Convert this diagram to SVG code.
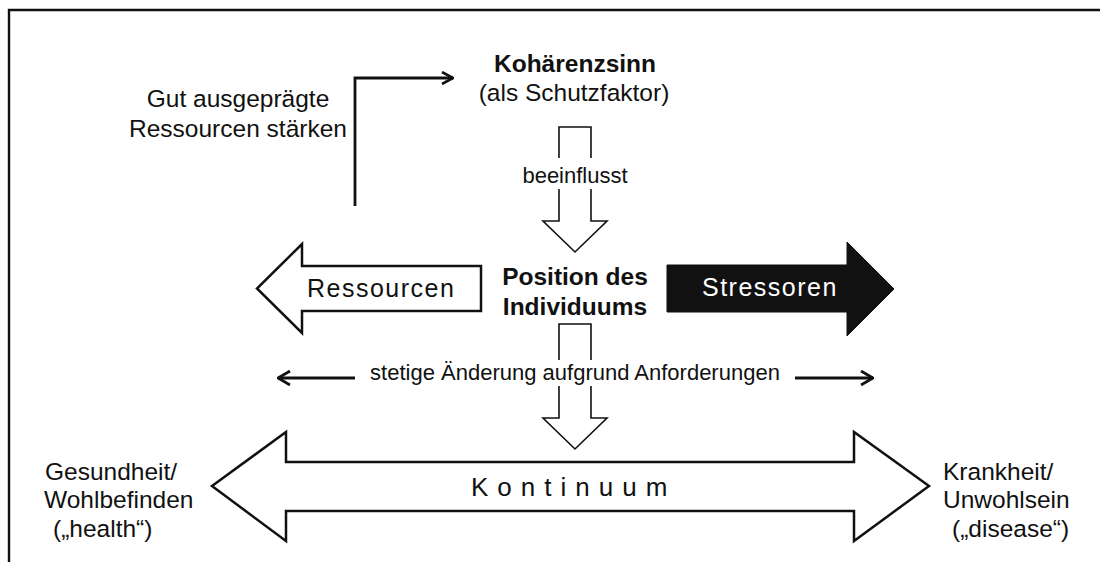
<svg xmlns="http://www.w3.org/2000/svg" width="1100" height="562" viewBox="0 0 1100 562">
  <defs>
    <style>
      text { font-family: "Liberation Sans", Arial, sans-serif; fill: #111; }
      .t24 { font-size: 24.5px; }
      .t22 { font-size: 22px; }
      .b { font-weight: bold; }
      .mid { text-anchor: middle; }
      .line { fill: none; stroke: #111; stroke-width: 2.8; }
      .outline { fill: #fff; stroke: #111; stroke-width: 2.5; stroke-linejoin: miter; }
      .thin { fill: #fff; stroke: #111; stroke-width: 1.6; }
    </style>
    <marker id="chev" viewBox="0 0 14 16" refX="13" refY="8" markerWidth="14" markerHeight="16" markerUnits="userSpaceOnUse" orient="auto">
      <path d="M1,1 L13,8 L1,15" fill="none" stroke="#111" stroke-width="2.8"/>
    </marker>
    <marker id="chevS" viewBox="0 0 13 14" refX="12" refY="7" markerWidth="13" markerHeight="14" markerUnits="userSpaceOnUse" orient="auto">
      <path d="M1,1 L12,7 L1,13" fill="none" stroke="#111" stroke-width="2.6"/>
    </marker>
  </defs>
  <rect x="0" y="0" width="1100" height="562" fill="#fff"/>
  <g id="frame">
    <path d="M9,562 L9,10 L1100,10" fill="none" stroke="#111" stroke-width="2.4"/>
  </g>

  <g id="connectors">
    <path class="line" d="M355,206 L355,78 L453,78" marker-end="url(#chevS)"/>
    <path class="line" d="M355,378 L278,378" marker-end="url(#chev)"/>
    <path class="line" d="M795,378 L873,378" marker-end="url(#chev)"/>
    <g id="arrow-beeinflusst">
      <polygon class="thin" points="559,127 591,127 591,221 607,221 575,252 543,221 559,221"/>
      <rect x="552" y="158" width="46" height="31" fill="#fff"/>
      <text class="t22 mid" x="575" y="183">beeinflusst</text>
    </g>
    <g id="arrow-anforderungen">
      <polygon class="thin" points="559,324 591,324 591,418 607,418 575,449 543,418 559,418"/>
      <rect x="552" y="360" width="46" height="26" fill="#fff"/>
      <text class="t22 mid" x="575" y="380">stetige Änderung aufgrund Anforderungen</text>
    </g>
  </g>

  <g id="note-ressourcen">
    <text class="t24 mid" x="238" y="107">Gut ausgeprägte</text>
    <text class="t24 mid" x="238" y="137">Ressourcen  stärken</text>
  </g>

  <g id="kohaerenzsinn">
    <text class="t24 b mid" x="575" y="72">Kohärenzsinn</text>
    <text class="t24 mid" x="574" y="101">(als Schutzfaktor)</text>
  </g>

  <g id="position">
    <text class="t24 b mid" x="575" y="285">Position des</text>
    <text class="t24 b mid" x="575" y="315">Individuums</text>
  </g>

  <g id="ressourcen">
    <polygon class="outline" points="481,266 302,266 302,244 257,288.5 302,333 302,311 481,311"/>
    <text x="307" y="297" style="font-size:25px;letter-spacing:1.5px">Ressourcen</text>
  </g>

  <g id="stressoren">
    <polygon points="667,265 847,265 847,242 894,289 847,336 847,312 667,312" fill="#111" stroke="#111" stroke-width="1"/>
    <text x="702" y="296" style="font-size:25px;letter-spacing:1.5px;fill:#fff">Stressoren</text>
  </g>

  <g id="kontinuum">
    <polygon class="outline" points="212,486 286,432 286,462 854,462 854,432 929,486 854,541 854,511 286,511 286,541"/>
    <text x="471" y="496" style="font-size:26px;letter-spacing:9px">Kontinuum</text>
  </g>

  <g id="gesundheit">
    <text class="t24" x="45" y="480">Gesundheit/</text>
    <text class="t24" x="44" y="508">Wohlbefinden</text>
    <text class="t24" x="53" y="537">(„health“)</text>
  </g>

  <g id="krankheit">
    <text class="t24" x="943" y="480">Krankheit/</text>
    <text class="t24" x="943" y="508">Unwohlsein</text>
    <text class="t24" x="952" y="537">(„disease“)</text>
  </g>
</svg>
